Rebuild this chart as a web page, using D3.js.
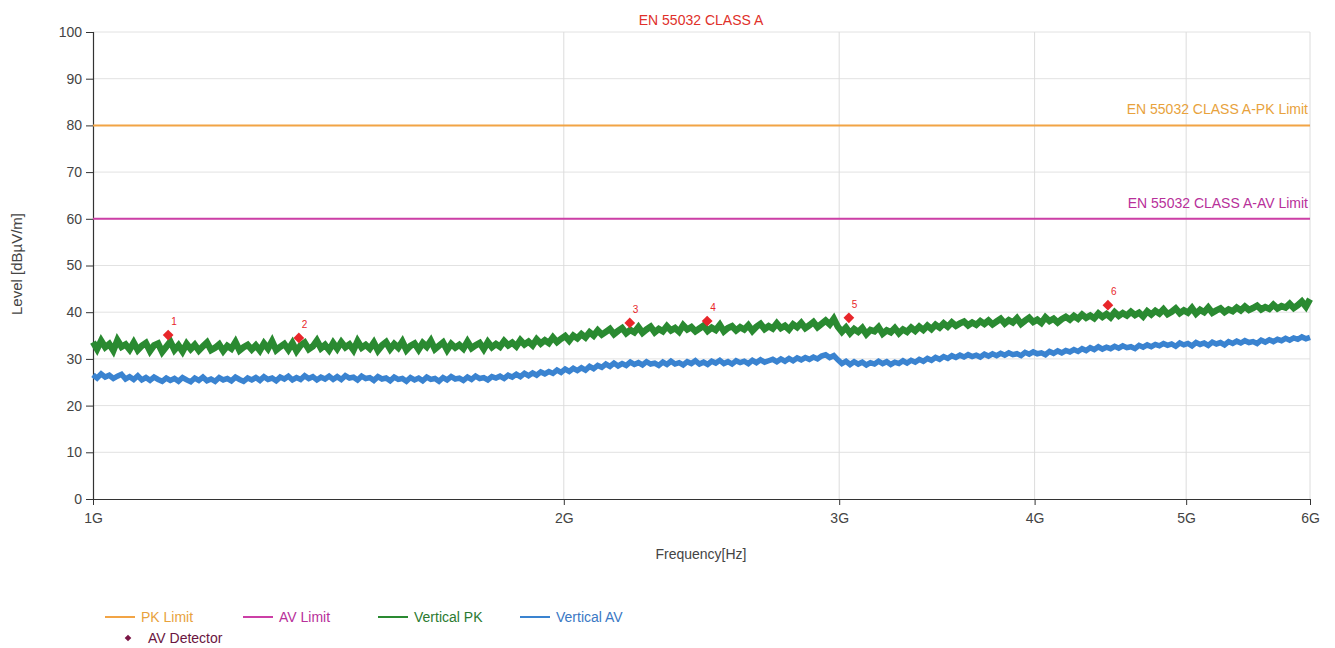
<!DOCTYPE html>
<html><head><meta charset="utf-8">
<script src="https://cdn.jsdelivr.net/npm/d3@7"></script>
<style>
body{margin:0;background:#fff;}
text{font-family:"Liberation Sans",Arial,sans-serif;}
</style></head>
<body>
<svg id="chart" width="1335" height="648"></svg>
<script>
// ---- data ----
const title = "EN 55032 CLASS A";
const sweepStartHz = 1e9, sweepStopHz = 6e9; // log sweep, one value per point
const xTickValues = [1e9, 2e9, 3e9, 4e9, 5e9, 6e9];
const xTickLabels = ["1G", "2G", "3G", "4G", "5G", "6G"];
const yTickValues = [0, 10, 20, 30, 40, 50, 60, 70, 80, 90, 100];
const pkLimit = 80, avLimit = 60;
const pkLimitLabel = "EN 55032 CLASS A-PK Limit";
const avLimitLabel = "EN 55032 CLASS A-AV Limit";

const verticalPK = [
33.6,32.1,33.9,32.5,33.2,31.8,34.0,32.6,33.1,32.0,33.5,31.9,32.8,33.4,31.7,32.9,33.3,31.5,32.6,33.7,
31.9,32.9,31.6,33.2,32.1,33.0,31.8,32.7,33.5,31.9,32.4,33.1,31.7,32.8,32.2,33.6,31.8,32.5,33.0,32.0,
32.9,31.8,33.3,32.2,33.8,31.9,32.6,33.2,32.0,33.4,31.7,32.9,33.5,32.1,32.7,33.9,32.3,33.0,31.9,33.4,
32.2,33.6,32.5,33.1,31.9,33.8,32.4,33.0,32.2,33.5,31.8,32.9,33.6,32.1,33.2,32.4,33.7,31.9,32.8,33.3,
32.0,33.4,32.6,33.9,32.1,32.8,33.5,31.9,33.2,32.4,33.0,32.2,33.7,32.3,32.9,33.4,32.1,33.6,32.5,33.2,
32.6,33.8,32.9,33.5,32.7,34.0,33.1,33.7,32.9,34.2,33.3,34.0,33.4,34.6,33.6,34.3,34.9,33.9,35.0,34.4,
35.3,34.6,35.7,35.0,36.1,35.2,35.8,36.4,35.3,36.0,36.6,35.5,36.2,35.7,36.8,35.6,36.3,36.9,35.7,36.4,
35.9,37.0,36.1,36.6,35.8,37.2,36.3,36.8,35.9,36.5,37.1,36.0,36.7,36.2,37.3,35.9,36.6,37.0,36.1,36.8,
36.3,37.2,36.0,36.9,37.5,36.4,37.0,36.5,37.6,36.6,37.1,36.3,37.4,36.8,37.7,36.6,37.2,37.9,36.8,37.5,
38.2,37.4,38.6,36.9,35.8,36.7,35.5,36.4,35.8,36.6,35.3,36.2,35.9,36.8,35.4,36.1,35.7,36.6,35.5,36.3,
35.8,36.7,36.0,36.9,36.2,37.1,36.4,37.3,36.7,37.6,36.9,37.8,37.1,37.6,38.0,37.2,37.8,37.3,38.1,37.5,
38.2,37.4,38.0,38.6,37.6,38.3,37.8,38.7,37.5,38.2,38.8,37.9,38.4,37.7,38.9,38.1,38.6,37.8,38.5,39.0,
38.4,39.2,38.6,39.5,38.8,39.3,38.7,39.7,39.0,39.6,38.9,40.0,39.2,39.8,39.3,40.1,39.4,39.9,39.1,40.2,
39.5,40.3,39.7,40.6,39.6,40.1,40.8,39.8,40.4,39.9,40.9,39.7,40.5,40.0,41.0,39.9,40.4,40.8,40.0,40.6,
40.2,41.0,40.4,41.2,40.5,40.9,41.4,40.6,41.1,40.7,41.6,40.8,41.3,41.0,41.8,40.9,41.5,42.3,41.2,42.8
];

const verticalAV = [
26.6,25.9,26.8,26.1,26.5,25.8,26.3,26.7,25.7,26.2,25.6,26.4,25.5,26.0,25.4,26.1,25.6,25.2,25.9,25.4,
25.8,25.2,26.0,25.5,25.1,25.9,25.4,26.1,25.3,25.7,25.2,26.0,25.5,25.8,25.3,26.1,25.6,25.2,25.9,25.5,
26.0,25.4,26.2,25.6,25.9,25.3,26.1,25.7,26.3,25.5,26.0,25.6,26.4,25.8,26.2,25.5,26.1,25.7,26.3,25.6,
26.2,25.6,26.4,25.9,26.1,25.5,26.3,25.8,26.0,25.4,26.2,25.7,25.9,25.3,26.1,25.6,25.8,25.2,26.0,25.5,
25.9,25.3,26.1,25.6,25.8,25.2,26.0,25.5,26.2,25.7,25.9,25.4,26.1,25.6,26.3,25.8,26.0,25.5,26.2,25.9,
26.3,25.8,26.5,26.1,26.7,26.2,26.9,26.4,27.0,26.5,27.2,26.8,27.3,26.9,27.6,27.1,27.8,27.3,28.0,27.5,
28.1,27.6,28.4,27.9,28.6,28.2,28.9,28.4,29.1,28.5,29.0,28.6,29.3,28.8,29.2,28.7,29.4,28.9,29.1,28.6,
29.3,28.8,29.5,28.9,29.2,28.7,29.4,29.0,29.6,28.9,29.3,28.8,29.5,29.1,29.7,29.0,29.4,28.9,29.6,29.2,
29.5,29.0,29.7,29.2,29.8,29.3,29.6,29.9,29.4,30.0,29.5,30.1,29.6,30.2,29.8,30.3,29.9,30.4,30.0,30.6,
30.9,30.3,30.7,29.8,29.0,29.5,28.8,29.4,28.9,29.3,28.7,29.2,28.9,29.5,29.0,29.4,28.8,29.3,29.0,29.6,
29.1,29.7,29.3,29.9,29.5,30.1,29.7,30.3,29.9,30.5,30.1,30.7,30.3,30.8,30.4,30.9,30.5,30.8,30.4,31.0,
30.6,31.1,30.7,31.2,30.8,31.3,30.9,31.1,30.7,31.4,31.0,31.5,31.1,31.3,30.9,31.6,31.2,31.7,31.3,31.8,
31.5,32.0,31.6,32.2,31.8,32.4,32.0,32.6,32.1,32.5,32.2,32.7,32.3,32.8,32.4,32.6,32.2,32.9,32.5,33.0,
32.6,33.1,32.8,33.3,32.9,33.2,32.7,33.4,33.0,33.3,32.8,33.5,33.1,33.4,32.9,33.6,33.2,33.5,33.0,33.7,
33.3,33.8,33.4,33.9,33.5,33.7,33.3,34.0,33.6,34.1,33.7,34.2,33.9,34.4,34.0,34.5,34.2,34.7,34.3,34.6
];

const markerIds = ["1", "2", "3", "4", "5", "6"];
const markerFreqHz = [1.117e9, 1.354e9, 2.204e9, 2.47e9, 3.043e9, 4.456e9];
const markerLevel = [35.1, 34.5, 37.7, 38.1, 38.8, 41.5];

const legendNames = ["PK Limit", "AV Limit", "Vertical PK", "Vertical AV", "AV Detector"];
const colors = {pk:"#f2a445", av:"#cc3fa6", vpk:"#2a8a31", vav:"#3a83d0", det:"#e8262a", detLegend:"#7a1545"};

// ---- chart ----
const svg = d3.select("#chart");
const M = {l:93, r:1310, t:32, b:499};
const x = d3.scaleLog().domain([sweepStartHz, sweepStopHz]).range([M.l, M.r]);
const y = d3.scaleLinear().domain([0, 100]).range([M.b, M.t]);

const n = verticalPK.length;
const freqAt = i => sweepStartHz * Math.pow(sweepStopHz / sweepStartHz, i / (n - 1));

// grid
const grid = svg.append("g");
grid.selectAll("line.h").data(yTickValues.slice(1)).join("line")
  .attr("x1", M.l).attr("x2", M.r).attr("y1", d => y(d)).attr("y2", d => y(d))
  .attr("stroke", "#e2e2e2").attr("stroke-width", 1);
grid.selectAll("line.v").data(xTickValues.slice(1)).join("line")
  .attr("x1", d => x(d)).attr("x2", d => x(d)).attr("y1", M.t).attr("y2", M.b)
  .attr("stroke", "#dcdcdc").attr("stroke-width", 1);

// axes
const yAxis = d3.axisLeft(y).tickValues(yTickValues).tickSize(7).tickPadding(4);
const gy = svg.append("g").attr("transform", `translate(${M.l},0)`).call(yAxis);
const xAxis = d3.axisBottom(x).tickValues(xTickValues).tickFormat((d, i) => xTickLabels[i]).tickSize(6).tickPadding(8);
const gx = svg.append("g").attr("transform", `translate(0,${M.b})`).call(xAxis);
[gx, gy].forEach(g => {
  g.select(".domain").attr("stroke", "#333").attr("stroke-width", 1.2);
  g.selectAll(".tick line").attr("stroke", "#333");
  g.selectAll(".tick text").attr("fill", "#444").style("font-size", "14px").style("font-family", "'Liberation Sans',Arial,sans-serif");
});
gx.select(".domain").attr("d", `M${M.l},0.5H${M.r}`);
gy.select(".domain").attr("d", `M0.5,${M.t}V${M.b}`);

// limits
svg.append("line").attr("x1", M.l).attr("x2", M.r).attr("y1", y(pkLimit)).attr("y2", y(pkLimit))
  .attr("stroke", colors.pk).attr("stroke-width", 2);
svg.append("line").attr("x1", M.l).attr("x2", M.r).attr("y1", y(avLimit)).attr("y2", y(avLimit))
  .attr("stroke", colors.av).attr("stroke-width", 2);
svg.append("text").attr("x", M.r - 2).attr("y", y(pkLimit) - 11).attr("text-anchor", "end")
  .attr("fill", "#e8a23c").style("font-size", "14px").text(pkLimitLabel);
svg.append("text").attr("x", M.r - 2).attr("y", y(avLimit) - 11).attr("text-anchor", "end")
  .attr("fill", "#b8309a").style("font-size", "14px").text(avLimitLabel);

// traces
const line = d3.line().x((d, i) => x(freqAt(i))).y(d => y(d));
[[verticalAV, colors.vav, 5.5], [verticalPK, colors.vpk, 6.5]].forEach(([data, c, w]) => {
  svg.append("path").datum(data).attr("d", line).attr("fill", "none")
    .attr("stroke", c).attr("stroke-width", w).attr("stroke-linejoin", "miter").attr("stroke-miterlimit", 3);
});

// markers
const diamond = d3.symbol().type(d3.symbolSquare).size(58);
const mk = svg.append("g");
markerIds.forEach((id, i) => {
  const cx = x(markerFreqHz[i]), cy = y(markerLevel[i]);
  mk.append("path").attr("d", diamond).attr("transform", `translate(${cx},${cy}) rotate(45)`).attr("fill", colors.det);
  mk.append("text").attr("x", cx + 3).attr("y", cy - 10).attr("fill", colors.det)
    .style("font-size", "10px").text(id);
});

// titles
svg.append("text").attr("x", 701).attr("y", 25).attr("text-anchor", "middle")
  .attr("fill", "#e0302a").style("font-size", "14px").text(title);
svg.append("text").attr("x", 701).attr("y", 559).attr("text-anchor", "middle")
  .attr("fill", "#444").style("font-size", "14px").text("Frequency[Hz]");
svg.append("text").attr("transform", "translate(22,264) rotate(-90)").attr("text-anchor", "middle")
  .attr("fill", "#444").style("font-size", "15px").text("Level [dBµV/m]");

// legend
const lg = svg.append("g");
const legendItems = [
  {name: legendNames[0], c: colors.pk, tc: "#e8a23c", x: 105, y: 617},
  {name: legendNames[1], c: colors.av, tc: "#b8309a", x: 243, y: 617},
  {name: legendNames[2], c: colors.vpk, tc: "#2b7a30", x: 378, y: 617},
  {name: legendNames[3], c: colors.vav, tc: "#3a78c4", x: 520, y: 617}
];
legendItems.forEach(it => {
  lg.append("line").attr("x1", it.x).attr("x2", it.x + 30).attr("y1", it.y).attr("y2", it.y)
    .attr("stroke", it.c).attr("stroke-width", 2);
  lg.append("text").attr("x", it.x + 36).attr("y", it.y + 5).attr("fill", it.tc)
    .style("font-size", "14px").text(it.name);
});
lg.append("path").attr("d", d3.symbol().type(d3.symbolSquare).size(22)).attr("transform", "translate(128,638) rotate(45)")
  .attr("fill", colors.detLegend);
lg.append("text").attr("x", 148).attr("y", 643).attr("fill", "#6a1540").style("font-size", "14px").text(legendNames[4]);
</script>
</body></html>
